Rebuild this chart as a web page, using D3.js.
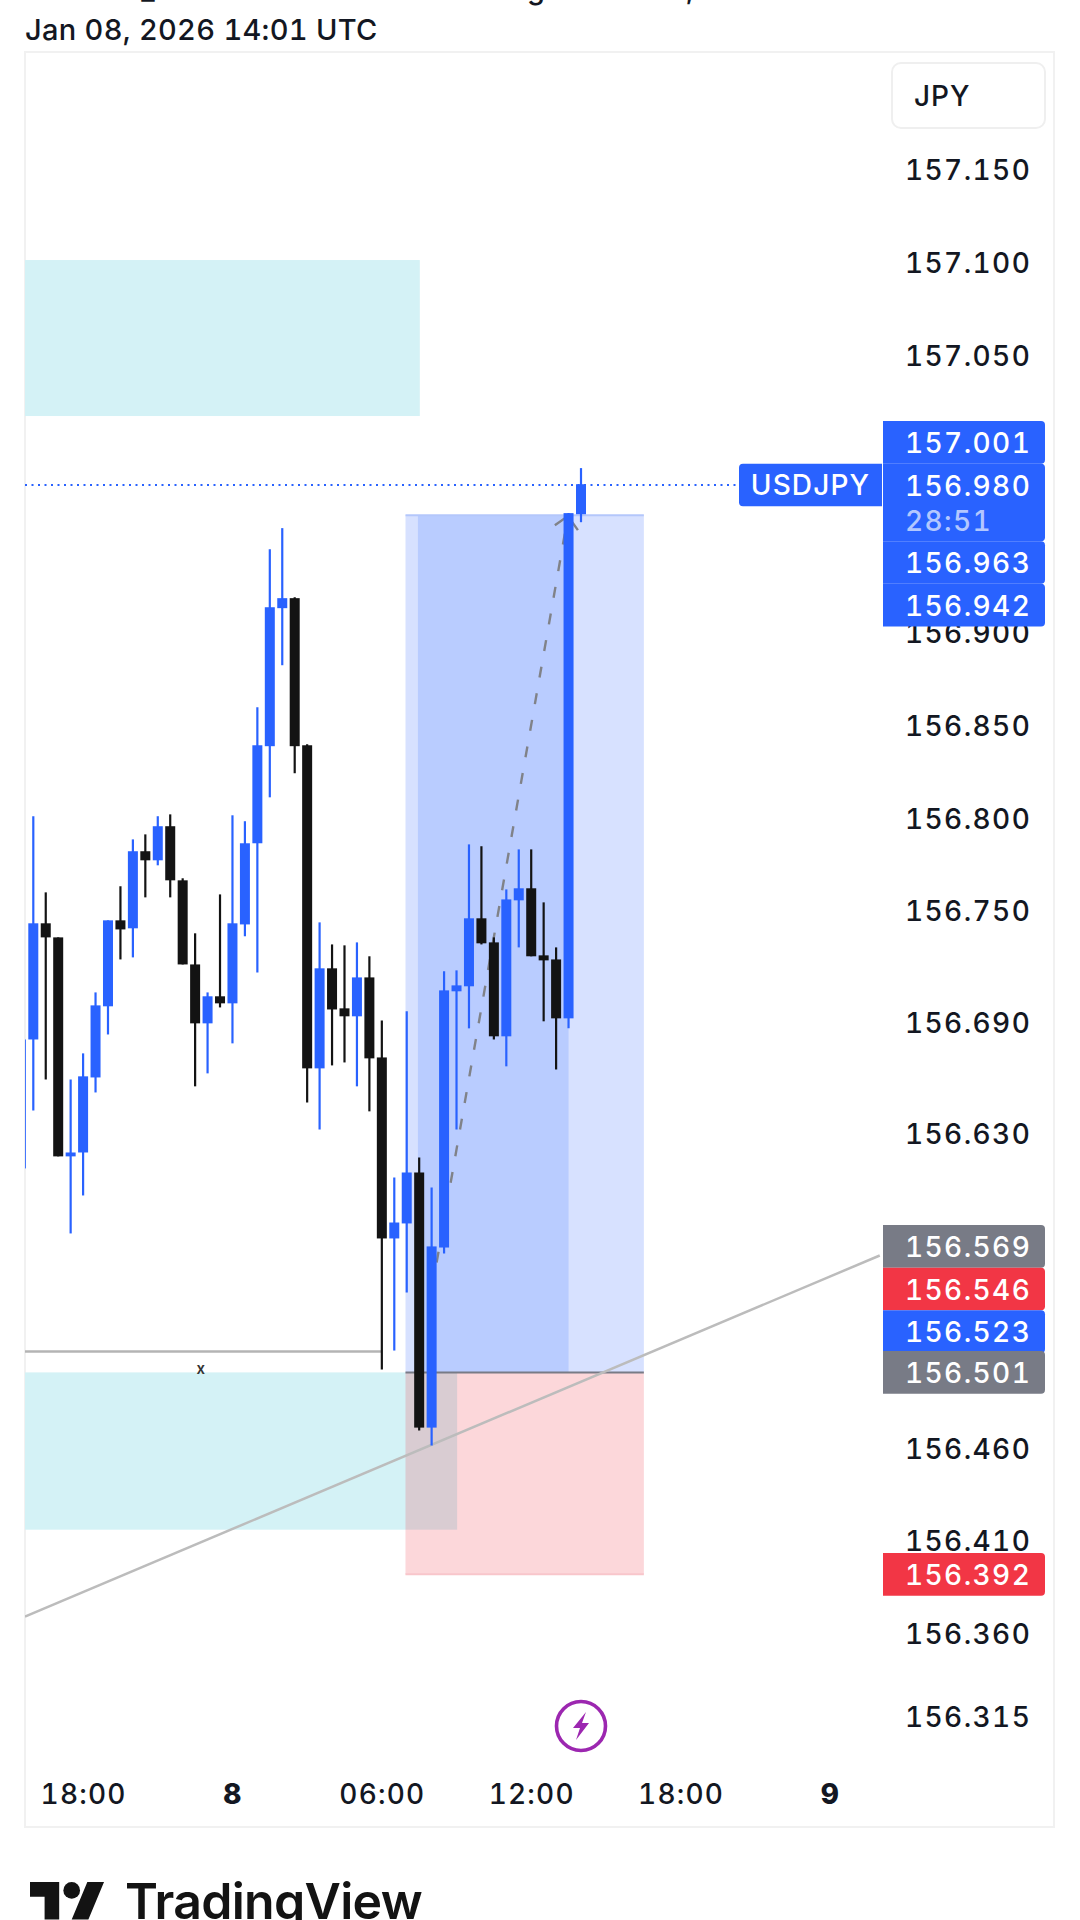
<!DOCTYPE html>
<html>
<head>
<meta charset="utf-8">
<title>USDJPY 30m</title>
<script src="https://cdn.jsdelivr.net/npm/d3@7/dist/d3.min.js"></script>
<style>
  html, body { margin: 0; padding: 0; background: #fff; }
  svg { display: block; font-family: Inter, "Noto Sans", sans-serif; }
  .num { font-variant-numeric: tabular-nums; font-feature-settings: "tnum" 1; }
</style>
</head>
<body>
<div id="chart"></div>
<script>
// USDJPY 30-minute candles, oldest first. The first bar opens at 15:30 UTC on Jan 7.
const firstBar = Date.UTC(2026, 0, 7, 15, 30);
const barMinutes = 30;
const opens = [156.6111,
  156.6807,156.7434,156.7358,156.6176,156.6197,156.6602,156.6986,156.7450,156.7407,156.7823,
  156.7774,156.7958,156.7666,156.7212,156.6894,156.7040,156.7002,156.7428,156.7866,156.8390,
  156.9135,156.9189,156.8395,156.6651,156.7191,156.6975,156.6932,156.7142,156.6710,156.5733,
  156.5814,156.6089,156.4712,156.5684,156.7067,156.7094,156.7461,156.7331,156.6824,156.7558,
  156.7623,156.7261,156.7239,156.6921,156.9642];
const highs = [156.6807,
  156.8012,156.7601,156.7358,156.6591,156.6732,156.7061,156.7450,156.7634,156.7887,156.7914,
  156.8012,156.8022,156.7677,156.7380,156.7061,156.7590,156.8017,156.7985,156.8600,156.9453,
  156.9567,156.9194,156.8400,156.7439,156.7320,156.7315,156.7331,156.7256,156.6910,156.6062,
  156.6959,156.6170,156.6008,156.7175,156.7180,156.7860,156.7850,156.7358,156.7617,156.7833,
  156.7833,156.7547,156.7304,156.9648,156.9891];
const lows = [156.6111,
  156.6424,156.6591,156.6176,156.5760,156.5965,156.6521,156.6834,156.7239,156.7250,156.7574,
  156.7747,156.7574,156.7212,156.6554,156.6624,156.6980,156.6786,156.7364,156.7169,156.8114,
  156.8827,156.8244,156.6467,156.6321,156.6667,156.6683,156.6554,156.6419,156.5025,156.5128,
  156.5441,156.4696,156.4615,156.5652,156.6321,156.6867,156.7320,156.6807,156.6662,156.7304,
  156.7256,156.6905,156.6645,156.6867,156.9599];
const closes = [156.6807,
  156.7434,156.7358,156.6176,156.6197,156.6608,156.6991,156.7450,156.7401,156.7823,156.7774,
  156.7958,156.7666,156.7212,156.6894,156.7040,156.7002,156.7434,156.7866,156.8395,156.9140,
  156.9189,156.8390,156.6651,156.7191,156.6969,156.6932,156.7142,156.6705,156.5733,156.5819,
  156.6089,156.4712,156.5690,156.7072,156.7099,156.7461,156.7326,156.6824,156.7563,156.7623,
  156.7256,156.7234,156.6921,156.9648,156.9804];

// Price axis labels that are shown, and the time axis labels.
const priceTicks = [157.150,157.100,157.050,156.900,156.850,156.800,156.750,156.690,156.630,156.460,156.410,156.360,156.315];
const timeTickHours = [18,24,30,36,42,48];
const timeTickLabels = ["18:00","8","06:00","12:00","18:00","9"];
const timeTickBold = ["8","9"];

// Price tags on the right edge.
const upperTags = ["157.001","156.980","156.963","156.942"];
const countdown = "28:51";
const lowerTags = [156.569,156.546,156.523,156.501,156.392];
const lowerTagKinds = ["gray","red","blue","gray","red"];

// Drawings: zones [bar start, bar end, price top, price bottom].
const zoneUpper = [-3,32.05,157.1014,157.0172];
const zoneLower = [-3,35.05,156.5010,156.4161];
// Long position tool, bars and prices.
const positionBars = [30.9,50.05], positionFill = [31.9,44];
const positionPrices = {target:156.9636, entry:156.5010, stop:156.3920};
const supportLine = {bars:[-2,29], price:156.5123};
const trendBars = [0.33,69], trendPrices = [156.3692,156.5641];
const pathBars = [33.4,43.95], pathPrices = [156.5603,156.9632];
const arrowBars = [42.9,43.95,44.75], arrowPrices = [156.9583,156.9632,156.9556];
const lastPrice = 156.980;

const W = 1080, H = 1920;
const colors = {blue:"#2962ff", black:"#131313", red:"#f23645", gray:"#787b86"};
const svg = d3.select("#chart").append("svg").attr("width",W).attr("height",H);
const panel = {l:25, r:1054, t:52, b:1827};
const labelFont = {size:28, weight:550, spacing:1.4};

const barTime = i => new Date(firstBar + i*barMinutes*60000);
const x = d3.scaleUtc()
  .domain([barTime(1), barTime(45)])
  .range([33.3, 581]);
const y = d3.scaleLinear().domain([157.15,156.315]).range([170,1717]);
const bx = i => x(barTime(i));

svg.append("defs").append("clipPath").attr("id","plot")
  .append("rect").attr("x",panel.l).attr("y",panel.t)
  .attr("width",panel.r-panel.l).attr("height",panel.b-panel.t);

// Page header: only the descenders of the wrapped first line reach the page.
const head = svg.append("g").attr("font-size",29).attr("font-weight",550).attr("fill","#131722");
head.append("text").attr("x",148).attr("y",-1).attr("text-anchor","middle").text("_");
head.append("text").attr("x",536).attr("y",-1).attr("text-anchor","middle").text("g");
head.append("text").attr("x",690).attr("y",-1).attr("text-anchor","middle").text(",");
head.append("text").attr("class","num").attr("x",25).attr("y",40).attr("letter-spacing",0.3).text("Jan 08, 2026 14:01 UTC");

// Panel frame
svg.append("rect").attr("x",panel.l).attr("y",panel.t)
  .attr("width",panel.r-panel.l).attr("height",panel.b-panel.t)
  .attr("fill","#fff").attr("stroke","#f1f1f1").attr("stroke-width",2);

const plot = svg.append("g").attr("clip-path","url(#plot)");

// Supply and demand zones
[zoneUpper,zoneLower].forEach(z => {
  plot.append("rect").attr("x",bx(z[0])).attr("width",bx(z[1])-bx(z[0]))
    .attr("y",y(z[2])).attr("height",y(z[3])-y(z[2])).attr("fill","#d4f2f6");
});

// Long position tool
const pos = plot.append("g");
pos.append("rect").attr("x",bx(positionBars[0])).attr("width",bx(positionBars[1])-bx(positionBars[0]))
  .attr("y",y(positionPrices.target)).attr("height",y(positionPrices.entry)-y(positionPrices.target))
  .attr("fill",colors.blue).attr("fill-opacity",0.19);
pos.append("rect").attr("x",bx(positionFill[0])).attr("width",bx(positionFill[1])-bx(positionFill[0]))
  .attr("y",y(positionPrices.target)).attr("height",y(positionPrices.entry)-y(positionPrices.target))
  .attr("fill",colors.blue).attr("fill-opacity",0.17);
pos.append("rect").attr("x",bx(positionBars[0])).attr("width",bx(positionBars[1])-bx(positionBars[0]))
  .attr("y",y(positionPrices.entry)).attr("height",y(positionPrices.stop)-y(positionPrices.entry))
  .attr("fill",colors.red).attr("fill-opacity",0.2);
[[positionPrices.target,"#b4c7fb"],[positionPrices.stop,"#f8c6cb"],[positionPrices.entry,colors.gray]].forEach(d => {
  pos.append("line").attr("x1",bx(positionBars[0])).attr("x2",bx(positionBars[1]))
    .attr("y1",y(d[0])).attr("y2",y(d[0])).attr("stroke",d[1]).attr("stroke-width",2);
});

// Flat level, rising trend line, last price line
plot.append("line").attr("x1",bx(supportLine.bars[0])).attr("x2",bx(supportLine.bars[1]))
  .attr("y1",y(supportLine.price)).attr("y2",y(supportLine.price))
  .attr("stroke","#b4b4b4").attr("stroke-width",2.4);
plot.append("text").attr("x",bx(14)+5.7).attr("y",1374).attr("text-anchor","middle")
  .attr("font-size",15).attr("font-weight",600).attr("fill","#333").text("x");
plot.append("line").attr("x1",bx(trendBars[0])).attr("x2",bx(trendBars[1]))
  .attr("y1",y(trendPrices[0])).attr("y2",y(trendPrices[1]))
  .attr("stroke","#bcbcbc").attr("stroke-width",2.5);
plot.append("line").attr("x1",panel.l).attr("x2",742)
  .attr("y1",y(lastPrice)).attr("y2",y(lastPrice))
  .attr("stroke",colors.blue).attr("stroke-width",2).attr("stroke-dasharray","2 4.5");

// Projected path with its arrow head
const linePath = d3.line().x(d=>bx(d[0])).y(d=>y(d[1]));
plot.append("path").attr("d",linePath(d3.zip(pathBars,pathPrices)))
  .attr("fill","none").attr("stroke","#808288").attr("stroke-width",2.4).attr("stroke-dasharray","11 16");
plot.append("path").attr("d",linePath(d3.zip(arrowBars,arrowPrices)))
  .attr("fill","none").attr("stroke","#808288").attr("stroke-width",2.4);

// Candles
const candles = opens.map((o,i)=>({i, o, h:highs[i], l:lows[i], c:closes[i]}));
const candle = plot.selectAll("g.candle").data(candles).join("g").attr("class","candle");
const tone = d => d.c >= d.o ? colors.blue : colors.black;
candle.append("line")
  .attr("x1",d=>bx(d.i)).attr("x2",d=>bx(d.i))
  .attr("y1",d=>y(d.h)).attr("y2",d=>y(d.l))
  .attr("stroke",tone).attr("stroke-width",2.2);
candle.append("rect")
  .attr("x",d=>bx(d.i)-5).attr("width",10)
  .attr("y",d=>y(Math.max(d.o,d.c)))
  .attr("height",d=>Math.max(1,Math.abs(y(d.o)-y(d.c))))
  .attr("fill",tone);

// Time axis
const timeAxis = d3.axisBottom(x)
  .tickValues(timeTickHours.map(h => new Date(Date.UTC(2026,0,7,h))))
  .tickSize(0).tickPadding(0)
  .tickFormat((d,i)=>timeTickLabels[i]);
const gx = svg.append("g").attr("transform","translate(0,1784)").call(timeAxis);
gx.select(".domain").remove();
gx.selectAll("text")
  .attr("class","num")
  .attr("font-family","Inter, sans-serif").attr("font-size",labelFont.size).attr("fill","#131722")
  .attr("letter-spacing",1.2)
  .attr("font-weight",labelFont.weight)
  .each(function(){
    if (timeTickBold.includes(d3.select(this).text())) d3.select(this).attr("font-weight",800);
  });

// Price axis
const priceAxis = d3.axisRight(y).tickValues(priceTicks).tickSize(0).tickPadding(0)
  .tickFormat(d3.format(".3f"));
const gy = svg.append("g").attr("transform","translate(905,0)").call(priceAxis);
gy.select(".domain").remove();
gy.selectAll("text")
  .attr("class","num")
  .attr("dy","0.35em")
  .attr("font-family","Inter, sans-serif").attr("font-size",labelFont.size).attr("font-weight",labelFont.weight)
  .attr("letter-spacing",labelFont.spacing).attr("fill","#131722");

// Currency button
svg.append("rect").attr("x",892).attr("y",63).attr("width",153).attr("height",65).attr("rx",9)
  .attr("fill","#fff").attr("stroke","#efefef").attr("stroke-width",2);
svg.append("text").attr("x",914).attr("y",96).attr("dy","0.35em")
  .attr("font-size",labelFont.size).attr("font-weight",labelFont.weight).attr("letter-spacing",1).attr("fill","#131722").text("JPY");

// Price tags: square on the chart side, rounded on the outer side.
const tagX = 883, tagW = 162, tagText = 905, rowH = 42.6, corner = 4;
function roundedOnRight(px, py, w, h, r){
  return `M${px},${py}H${px+w-r}Q${px+w},${py} ${px+w},${py+r}V${py+h-r}Q${px+w},${py+h} ${px+w-r},${py+h}H${px}Z`;
}
function roundedOnLeft(px, py, w, h, r){
  return `M${px+w},${py}H${px+r}Q${px},${py} ${px},${py+r}V${py+h-r}Q${px},${py+h} ${px+r},${py+h}H${px+w}Z`;
}
function tag(top, height, fill){
  svg.append("path").attr("d",roundedOnRight(tagX,top,tagW,height,corner)).attr("fill",fill);
}
function tagLabel(cy, label, fill){
  svg.append("text").attr("class","num").attr("x",tagText).attr("y",cy).attr("dy","0.38em")
    .attr("font-size",labelFont.size).attr("font-weight",labelFont.weight)
    .attr("letter-spacing",labelFont.spacing).attr("fill",fill).text(label);
}
// The upper tags sit stacked around the last price so that they do not overlap.
const lastCy = y(lastPrice);
const rows = [
  {top:lastCy-rowH/2-rowH, h:rowH,    cy:lastCy-rowH},
  {top:lastCy-rowH/2,      h:rowH+35, cy:lastCy},
  {top:lastCy+rowH/2+35,   h:rowH,    cy:lastCy+rowH+35},
  {top:lastCy+rowH*1.5+35, h:rowH,    cy:lastCy+rowH*2+35}
];
// Symbol label beside the last price
svg.append("path").attr("d",roundedOnLeft(739,lastCy-rowH/2,143,rowH,corner)).attr("fill",colors.blue);
rows.forEach(r => tag(r.top, r.h, colors.blue));
upperTags.forEach((t,i) => tagLabel(rows[i].cy, t, "#fff"));
tagLabel(lastCy+35, countdown, "#b3c7ff");
svg.append("text").attr("x",810.5).attr("y",lastCy).attr("dy","0.36em").attr("text-anchor","middle")
  .attr("font-size",labelFont.size).attr("font-weight",labelFont.weight).attr("letter-spacing",1.15).attr("fill","#fff").text("USDJPY");

lowerTags.forEach((v,i) => {
  const cy = y(v);
  tag(cy-rowH/2, rowH, colors[lowerTagKinds[i]]);
  tagLabel(cy, d3.format(".3f")(v), "#fff");
});

// Purple event marker on the time scale
const ev = svg.append("g").attr("transform",`translate(${bx(45)},1726)`);
ev.append("circle").attr("r",24.5).attr("fill","#fff").attr("stroke","#9c27b0").attr("stroke-width",3.6);
ev.append("path").attr("d","M5,-14 L-8,2 L-1,2 L-5,14 L8,-3 L1,-3 Z").attr("fill","#9c27b0");

// Brand mark and wordmark
const brand = svg.append("g").attr("transform","translate(30,1873.7) scale(2.085)").attr("fill","#131313");
brand.append("path").attr("d","M14 22H7V11H0V4h14v18zM28 22h-8l7.5-18h8L28 22z");
brand.append("circle").attr("cx",20).attr("cy",8).attr("r",4);
svg.append("text").attr("x",125).attr("y",1919).attr("font-size",50).attr("font-weight",600)
  .attr("letter-spacing",-0.7).attr("fill","#131313").text("TradingView");
</script>
</body>
</html>
